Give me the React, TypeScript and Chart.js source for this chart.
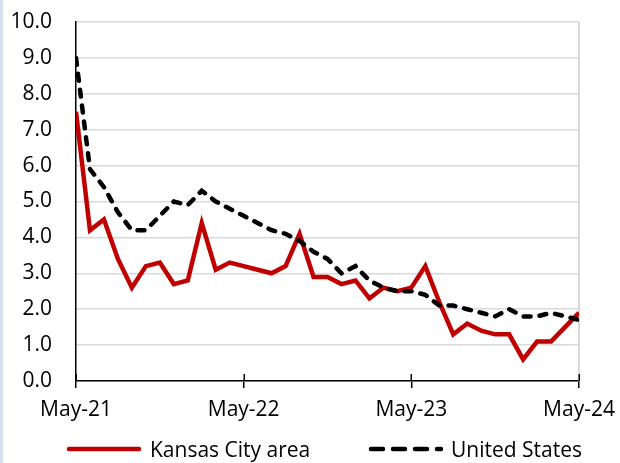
import React, { useEffect, useRef } from "react";
import { Chart, registerables } from "chart.js";

Chart.register(...registerables);

const months: string[] = [
  "May-21", "Jun-21", "Jul-21", "Aug-21", "Sep-21", "Oct-21", "Nov-21", "Dec-21", "Jan-22", "Feb-22", "Mar-22", "Apr-22",
  "May-22", "Jun-22", "Jul-22", "Aug-22", "Sep-22", "Oct-22", "Nov-22", "Dec-22", "Jan-23", "Feb-23", "Mar-23", "Apr-23",
  "May-23", "Jun-23", "Jul-23", "Aug-23", "Sep-23", "Oct-23", "Nov-23", "Dec-23", "Jan-24", "Feb-24", "Mar-24", "Apr-24",
  "May-24",
];

const kansasCity: number[] = [
  7.5, 4.2, 4.5, 3.4, 2.6, 3.2, 3.3, 2.7, 2.8, 4.4, 3.1, 3.3,
  3.2, 3.1, 3.0, 3.2, 4.1, 2.9, 2.9, 2.7, 2.8, 2.3, 2.6, 2.5,
  2.6, 3.2, 2.2, 1.3, 1.6, 1.4, 1.3, 1.3, 0.6, 1.1, 1.1, 1.5,
  1.9,
];

const unitedStates: number[] = [
  9.0, 5.9, 5.4, 4.7, 4.2, 4.2, 4.6, 5.0, 4.9, 5.3, 5.0, 4.8,
  4.6, 4.4, 4.2, 4.1, 3.9, 3.6, 3.4, 3.0, 3.2, 2.8, 2.6, 2.5,
  2.5, 2.4, 2.1, 2.1, 2.0, 1.9, 1.8, 2.0, 1.8, 1.8, 1.9, 1.8,
  1.7,
];

const xTickLabels: string[] = ["May-21", "May-22", "May-23", "May-24"];
const seriesNames: string[] = ["Kansas City area", "United States"];

const RED = "#c00000";
const FONT = '"Open Sans", sans-serif';

const framePlugin = {
  id: "frame",
  beforeDatasetsDraw(chart: any) {
    const { ctx, chartArea, scales } = chart;
    ctx.save();
    ctx.strokeStyle = "#d9d9d9";
    ctx.lineWidth = 2;
    ctx.beginPath();
    ctx.moveTo(chartArea.right, chartArea.top);
    ctx.lineTo(chartArea.right, chartArea.bottom);
    ctx.stroke();
    const xs = scales.x;
    ctx.strokeStyle = "#000";
    ctx.lineWidth = 1.5;
    for (const t of xs.ticks) {
      const px = Math.round(xs.getPixelForValue(t.value)) + 0.25;
      ctx.beginPath();
      ctx.moveTo(px, chartArea.bottom - 7);
      ctx.lineTo(px, chartArea.bottom);
      ctx.stroke();
    }
    ctx.restore();
  },
};

function App() {
  const ref = useRef<HTMLCanvasElement | null>(null);

  useEffect(() => {
    if (!ref.current) return;
    Chart.defaults.font.family = FONT;
    Chart.defaults.font.size = 21;
    Chart.defaults.color = "#000";
    const chart = new Chart(ref.current, {
      type: "line",
      data: {
        labels: months,
        datasets: [
          {
            label: seriesNames[0],
            data: kansasCity.map((v, i) => ({ x: i, y: v })),
            borderColor: RED,
            backgroundColor: RED,
            borderWidth: 4.5,
            pointRadius: 0,
            tension: 0,
            order: 1,
          },
          {
            label: seriesNames[1],
            data: unitedStates.map((v, i) => ({ x: i, y: v })),
            borderColor: "#000",
            backgroundColor: "#000",
            borderWidth: 4.5,
            borderDash: [7, 9],
            borderCapStyle: "round",
            pointRadius: 0,
            tension: 0,
            order: 0,
          },
        ],
      },
      options: {
        responsive: false,
        animation: false,
        events: [],
        layout: { padding: { left: 0, top: 22, right: 41, bottom: 38 } },
        plugins: {
          legend: { display: false },
          tooltip: { enabled: false },
        },
        scales: {
          x: {
            type: "linear",
            min: 0,
            max: months.length - 1,
            afterFit: (s: any) => {
              s.height = 44;
              s.paddingLeft = 0;
              s.paddingRight = 0;
            },
            ticks: {
              stepSize: 12,
              padding: 9,
              maxRotation: 0,
              autoSkip: false,
              color: "#000",
              font: { family: FONT, size: 21 },
              callback: (v: any) => {
                const idx = Math.round(Number(v) / 12);
                return Number(v) % 12 === 0 ? xTickLabels[idx] : "";
              },
            },
            grid: {
              display: true,
              drawOnChartArea: false,
              drawTicks: true,
              tickLength: 7,
              color: "#000",
              lineWidth: 1.5,
            },
            border: { display: true, color: "#000", width: 1.5 },
          },
          y: {
            min: 0,
            max: 10,
            afterFit: (s: any) => {
              s.width = 76;
              s.paddingTop = 0;
              s.paddingBottom = 0;
            },
            ticks: {
              stepSize: 1,
              padding: 24,
              color: "#000",
              font: { family: FONT, size: 21 },
              callback: (v: any) => Number(v).toFixed(1),
            },
            grid: {
              color: "#d9d9d9",
              lineWidth: 1.5,
              drawTicks: false,
            },
            border: { display: true, color: "#000", width: 1.5 },
          },
        },
      },
      plugins: [framePlugin],
    });
    return () => chart.destroy();
  }, []);

  const legendText: React.CSSProperties = {
    fontFamily: FONT,
    fontSize: 21,
    lineHeight: "26px",
    color: "#000",
    marginLeft: 8,
    whiteSpace: "nowrap",
  };
  const legendItem: React.CSSProperties = {
    position: "absolute",
    top: 436,
    height: 26,
    display: "flex",
    alignItems: "center",
  };

  return (
    <div
      style={{
        position: "absolute",
        left: 0,
        top: 0,
        width: 620,
        height: 463,
        background: "#fff",
        overflow: "hidden",
      }}
    >
      <div style={{ position: "absolute", left: 0, top: 0, width: 3, height: 463, background: "#d6e1f2" }} />
      <canvas ref={ref} width={620} height={463} style={{ position: "absolute", left: 0, top: 0 }} />
      <div style={{ ...legendItem, left: 66 }}>
        <svg width={76} height={10}>
          <line x1={3} y1={5} x2={73} y2={5} stroke={RED} strokeWidth={4.5} strokeLinecap="round" />
        </svg>
        <span style={legendText}>{seriesNames[0]}</span>
      </div>
      <div style={{ ...legendItem, left: 367 }}>
        <svg width={76} height={10}>
          <line x1={4} y1={5} x2={74} y2={5} stroke="#000" strokeWidth={4.5} strokeLinecap="round" strokeDasharray="12 10" />
        </svg>
        <span style={legendText}>{seriesNames[1]}</span>
      </div>
    </div>
  );
}

export default App;
